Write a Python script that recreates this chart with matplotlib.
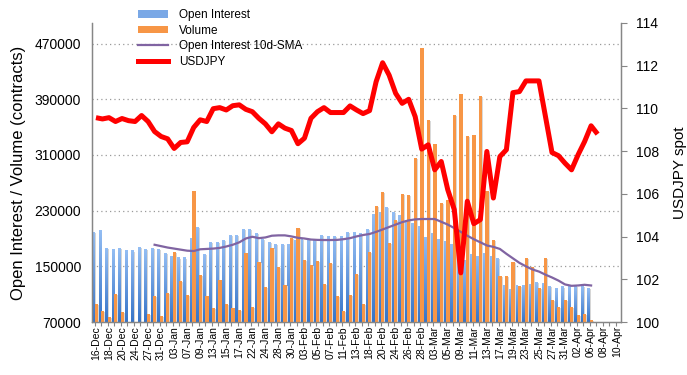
import numpy as np
import matplotlib
matplotlib.use("Agg")
import matplotlib.pyplot as plt
from matplotlib.colors import LinearSegmentedColormap
from matplotlib.patches import Patch
from matplotlib.lines import Line2D

plt.rcParams['font.family'] = ['Liberation Sans', 'DejaVu Sans']

# trading days shown on the category axis
dates = ['16-Dec', '17-Dec', '18-Dec', '19-Dec', '20-Dec', '23-Dec', '24-Dec', '26-Dec', '27-Dec',
         '30-Dec', '31-Dec', '02-Jan', '03-Jan', '06-Jan', '07-Jan', '08-Jan', '09-Jan', '10-Jan',
         '13-Jan', '14-Jan', '15-Jan', '16-Jan', '17-Jan', '21-Jan', '22-Jan', '23-Jan', '24-Jan',
         '27-Jan', '28-Jan', '29-Jan', '30-Jan', '31-Jan', '03-Feb', '04-Feb', '05-Feb', '06-Feb',
         '07-Feb', '10-Feb', '11-Feb', '12-Feb', '13-Feb', '14-Feb', '18-Feb', '19-Feb', '20-Feb',
         '21-Feb', '24-Feb', '25-Feb', '26-Feb', '27-Feb', '28-Feb', '02-Mar', '03-Mar', '04-Mar',
         '05-Mar', '06-Mar', '09-Mar', '10-Mar', '11-Mar', '12-Mar', '13-Mar', '16-Mar', '17-Mar',
         '18-Mar', '19-Mar', '20-Mar', '23-Mar', '24-Mar', '25-Mar', '26-Mar', '27-Mar', '30-Mar',
         '31-Mar', '01-Apr', '02-Apr', '03-Apr', '06-Apr', '07-Apr', '08-Apr', '09-Apr', '10-Apr']

open_interest = [199200, 202100, 176300, 174800, 176300, 172200, 172200, 177700, 174800, 175800,
                 174800, 169100, 163600, 162000, 162000, 190600, 206400, 167700, 184900, 184900,
                 187800, 194900, 194900, 203500, 203500, 197800, 189200, 184900, 182000, 182000,
                 182000, 187800, 189200, 189200, 187800, 194900, 193500, 193500, 193500, 199200,
                 199200, 196500, 203500, 225100, 228000, 235200, 228000, 223700, 216500, 211700,
                 207900, 192100, 197800, 189200, 186300, 182000, 159000, 159000, 167700, 164800,
                 169100, 164800, 161900, 123100, 117400, 123100, 123100, 124600, 127400, 126000,
                 121700, 118800, 120300, 120300, 121700, 121700, 118800]

volume = [95800, 85800, 77200, 110200, 84400, 55000, 50000, 60000, 81500, 107300,
          78600, 111600, 170500, 128900, 108800, 258100, 137500, 107300, 90100, 130300,
          95800, 90100, 87200, 169100, 91500, 156200, 120300, 176300, 149000, 123100,
          191000, 205000, 159000, 151900, 157600, 124600, 154700, 107300, 85800, 108800,
          138900, 95800, 170500, 236600, 256700, 183500, 216500, 253800, 252400, 305500,
          463500, 360100, 325600, 240900, 245200, 367300, 397400, 337100, 338600, 394600,
          258100, 187800, 136100, 136100, 156200, 121700, 161900, 149000, 118800, 161900,
          101600, 91500, 101600, 91500, 80100, 81500, 72900]

# 10 day moving average of open interest, first 9 days have no value
oi_sma = [np.nan] * 9 + [
    181000, 179000, 177000, 175500, 174000, 172500, 172000, 174500, 175000, 175500,
    176500, 178500, 181000, 184500, 190000, 192500, 190500, 191500, 194000, 194500,
    194500, 193000, 191000, 190000, 188500, 188000, 187800, 187800, 188000, 189000,
    190500, 193000, 195000, 196500, 199500, 203000, 206500, 210000, 213500, 216000,
    217500, 218000, 218000, 218000, 214000, 210000, 205000, 199500, 194000, 189000,
    184500, 180000, 178000, 175000, 168000, 161500, 155000, 150000, 145500, 142500,
    138000, 134000, 129500, 124000, 122000, 122500, 123500, 122500]

usdjpy = [109.56, 109.50, 109.56, 109.38, 109.52, 109.42, 109.38, 109.66, 109.38, 108.91,
          108.68, 108.57, 108.12, 108.40, 108.43, 109.10, 109.46, 109.38, 109.98, 110.03,
          109.92, 110.12, 110.16, 109.95, 109.84, 109.53, 109.27, 108.90, 109.27, 109.07,
          108.96, 108.34, 108.60, 109.53, 109.84, 110.03, 109.80, 109.80, 109.80, 110.11,
          109.92, 109.75, 109.89, 111.24, 112.13, 111.55, 110.70, 110.23, 110.42, 109.61,
          108.09, 108.29, 107.12, 107.51, 106.19, 105.26, 102.30, 105.65, 104.60, 104.79,
          107.98, 105.80, 107.74, 108.06, 110.73, 110.78, 111.28, 111.28, 111.28, 109.61,
          107.93, 107.78, 107.43, 107.12, 107.82, 108.44, 109.18, 108.79]

y_left_ticks = [70000, 150000, 230000, 310000, 390000, 470000]
y_right_ticks = [100, 102, 104, 106, 108, 110, 112, 114]

blue_cmap = LinearSegmentedColormap.from_list('oi', ['#3674c8', '#93bdf3'])
orange = '#f79646'
grey = '#868686'

fig = plt.figure(figsize=(6.87, 3.75), dpi=100)
ax = fig.add_axes([0.134, 0.1413, 0.770, 0.798])
ax2 = ax.twinx()

x_bar = np.arange(len(open_interest))
y_min, y_max = 70000, 500000

# open interest bars: soft shadow + vertical gradient
bw = 0.46
for xi, h in zip(x_bar, open_interest):
    x0 = xi - 0.38 - bw / 2
    ax.bar(x0 + bw / 2 + 0.14, h - 1500, width=bw, color='#d6d6d6', zorder=1)
    grad = np.linspace(0, 1, 64).reshape(-1, 1)
    ax.imshow(grad, extent=(x0, x0 + bw, y_min, h), origin='lower', cmap=blue_cmap,
              aspect='auto', zorder=2, interpolation='bilinear')

# volume bars
x_vol = np.arange(len(volume))
ax.bar(x_vol + 0.17, np.array(volume) - 1500, width=0.48, color='#d9d9d9', zorder=2.5)
ax.bar(x_vol + 0.03, volume, width=0.5, color=orange, zorder=3)

ax.plot(np.arange(len(oi_sma)), oi_sma, color='#8064a2', lw=1.6, zorder=4)

ax2.plot(np.arange(len(usdjpy)), usdjpy, color='#ff0000', lw=3.6, solid_joinstyle='round',
         solid_capstyle='butt', zorder=5)

ax.set_xlim(-0.6, 80.6)
ax.set_ylim(y_min, y_max)
ax2.set_ylim(100, 114)

ax.set_yticks(y_left_ticks)
ax.set_yticklabels([str(v) for v in y_left_ticks], fontsize=10)
ax.tick_params(axis='y', length=0, pad=8)
for v in y_left_ticks[1:]:
    ax.axhline(v, color='#9a9a9a', lw=0.9, ls=(0, (1, 2.5)), zorder=0.5)

ax2.set_yticks(y_right_ticks)
ax2.set_yticklabels([str(v) for v in y_right_ticks], fontsize=10)
ax2.tick_params(axis='y', length=4, width=0.8, color=grey, pad=7)

ax.set_xticks(np.arange(0, len(dates), 2))
ax.set_xticklabels(dates[::2], rotation=90, fontsize=7.5)
ax.set_xticks(np.arange(len(dates)) - 0.2, minor=True)
ax.tick_params(axis='x', which='major', length=0, pad=3)
ax.tick_params(axis='x', which='minor', length=3, width=0.8, color=grey)

for a in (ax, ax2):
    a.spines['top'].set_visible(False)
    for s in ('left', 'right', 'bottom'):
        a.spines[s].set_color(grey)
        a.spines[s].set_linewidth(0.9)

ax.set_ylabel('Open Interest / Volume (contracts)', fontsize=12, labelpad=6)
ax2.set_ylabel('USDJPY spot', fontsize=11, labelpad=10)

handles = [Patch(facecolor='#7aa8e6', edgecolor='none'),
           Patch(facecolor=orange, edgecolor='none'),
           Line2D([], [], color='#8064a2', lw=1.6),
           Line2D([], [], color='#ff0000', lw=3.6)]
labels = ['Open Interest', 'Volume', 'Open Interest 10d-SMA', 'USDJPY']
fig.legend(handles, labels, loc='upper left', bbox_to_anchor=(138 / 687, 1 - 9 / 375),
           frameon=False, fontsize=8.5, handlelength=2.5, handleheight=0.6,
           handletextpad=1.0, labelspacing=0.3, borderpad=0, borderaxespad=0)

fig.savefig('out.png', dpi=100)
